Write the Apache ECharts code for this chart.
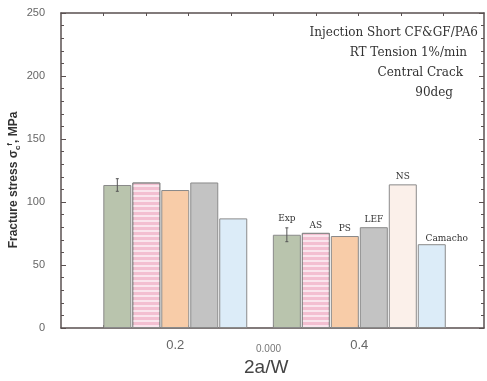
<!DOCTYPE html>
<html>
<head>
<meta charset="utf-8">
<script src="https://cdn.jsdelivr.net/npm/echarts@6/dist/echarts.min.js"></script>
<style>
  html, body { margin: 0; padding: 0; background: #fff; }
  #chart { width: 487px; height: 381px; }
</style>
</head>
<body>
<div id="chart"></div>
<script>
// crack length ratio groups
var groupLabels = [0.2, 0.4];
var models = ['Exp', 'AS', 'PS', 'LEF', 'NS', 'Camacho'];
// fracture stress, MPa (one value per group)
var expVals = [113.5, 74];
var expErr = [5, 5.5];
var asVals = [115.5, 75.5];
var psVals = [109.5, 73];
var lefVals = [115.5, 80];
var nsVals = [null, 114];
var camachoVals = [87, 66.5];
var xTicks = [0.1215, 0.1682, 0.2138, 0.2606, 0.3062, 0.3530, 0.3986, 0.4454, 0.4910];

var allVals = [expVals, asVals, psVals, lefVals, nsVals, camachoVals];
var colors = ['#b9c4ad', '#f3bfd1', '#f8cca8', '#c3c3c3', '#fbf0ea', '#dcecf8'];
var barStep = 0.0315;

var chartDom = document.getElementById('chart');
var myChart = echarts.init(chartDom);

var barData = [];
var errData = [];
groupLabels.forEach(function (gx, g) {
  var present = [];
  models.forEach(function (m, k) {
    if (allVals[k][g] != null) present.push(k);
  });
  var n = present.length;
  present.forEach(function (k, i) {
    var x = gx + (i - (n - 1) / 2) * barStep;
    var item = {
      value: [x, allVals[k][g]],
      itemStyle: { color: colors[k] }
    };
    if (k === 1) {
      item.itemStyle.decal = {
        symbol: 'rect', symbolSize: 1,
        dashArrayX: [1, 0], dashArrayY: [2, 3],
        color: 'rgba(255,255,255,0.6)'
      };
    }
    if (g === 1) {
      item.label = {
        show: true,
        formatter: models[k],
        distance: k === 0 ? 12 : 3,
        offset: k === 5 ? [15, 2] : [0, 0]
      };
    }
    barData.push(item);
    if (k === 0) errData.push([x, expVals[g] - expErr[g], expVals[g] + expErr[g]]);
  });
});

var axisColor = '#5a5050';

option = {
  animation: false,
  grid: { left: 61, right: 3, top: 13, bottom: 53 },
  xAxis: [{
    type: 'value',
    min: 0.0758,
    max: 0.5355,
    axisLine: { show: true, onZero: false, lineStyle: { color: axisColor, width: 1.5 } },
    axisTick: { show: true, inside: true, length: 3, customValues: xTicks, lineStyle: { color: axisColor } },
    axisLabel: {
      customValues: groupLabels,
      formatter: function (v) { return v.toFixed(1); },
      color: '#666', fontSize: 13, fontFamily: 'Liberation Sans', margin: 11
    },
    splitLine: { show: false }
  }, {
    type: 'value',
    position: 'top',
    min: 0.0758,
    max: 0.5355,
    axisLine: { show: true, onZero: false, lineStyle: { color: axisColor, width: 1.5 } },
    axisTick: { show: true, inside: true, length: 3, customValues: xTicks, lineStyle: { color: axisColor } },
    axisLabel: { show: false },
    splitLine: { show: false }
  }],
  yAxis: [{
    type: 'value',
    min: 0,
    max: 250,
    interval: 50,
    axisLine: { show: true, onZero: false, lineStyle: { color: axisColor, width: 1.5 } },
    axisTick: { show: true, inside: true, length: 5, lineStyle: { color: axisColor } },
    minorTick: { show: true, splitNumber: 5, length: 3, lineStyle: { color: axisColor } },
    axisLabel: { color: '#666', fontSize: 11, fontFamily: 'Liberation Sans', margin: 16 },
    splitLine: { show: false }
  }, {
    type: 'value',
    position: 'right',
    min: 0,
    max: 250,
    interval: 50,
    axisLine: { show: true, onZero: false, lineStyle: { color: axisColor, width: 1.5 } },
    axisTick: { show: true, inside: true, length: 5, lineStyle: { color: axisColor } },
    minorTick: { show: true, splitNumber: 5, length: 3, lineStyle: { color: axisColor } },
    axisLabel: { show: false },
    splitLine: { show: false }
  }],
  series: [{
    type: 'bar',
    xAxisIndex: 0,
    yAxisIndex: 0,
    barWidth: 28,
    data: barData,
    itemStyle: { borderColor: '#8a8a8a', borderWidth: 1 },
    label: {
      position: 'top',
      color: '#333',
      fontSize: 9,
      fontFamily: 'DejaVu Serif'
    }
  }, {
    type: 'custom',
    xAxisIndex: 0,
    yAxisIndex: 0,
    data: errData,
    z: 5,
    renderItem: function (params, api) {
      var lo = api.coord([api.value(0), api.value(1)]);
      var hi = api.coord([api.value(0), api.value(2)]);
      var st = { stroke: '#555', lineWidth: 1 };
      return {
        type: 'group',
        children: [
          { type: 'line', shape: { x1: lo[0], y1: lo[1], x2: hi[0], y2: hi[1] }, style: st },
          { type: 'line', shape: { x1: lo[0] - 1.5, y1: lo[1], x2: lo[0] + 1.5, y2: lo[1] }, style: st },
          { type: 'line', shape: { x1: hi[0] - 1.5, y1: hi[1], x2: hi[0] + 1.5, y2: hi[1] }, style: st }
        ]
      };
    }
  }],
  graphic: [
    { type: 'text', right: 9, top: 27, style: { text: 'Injection Short CF&GF/PA6', fill: '#333', font: '12px "DejaVu Serif"' } },
    { type: 'text', right: 20, top: 47, style: { text: 'RT Tension 1%/min', fill: '#333', font: '12px "DejaVu Serif"' } },
    { type: 'text', right: 24, top: 67, style: { text: 'Central Crack', fill: '#333', font: '12px "DejaVu Serif"' } },
    { type: 'text', right: 34, top: 87, style: { text: '90deg', fill: '#333', font: '12px "DejaVu Serif"' } },
    { type: 'text', left: 256, top: 344, style: { text: '0.000', fill: '#777', font: '10px "Liberation Sans"' } },
    { type: 'text', left: 244, top: 358, style: { text: '2a/W', fill: '#444', font: '19px "Liberation Sans"' } },
    {
      type: 'text', x: 14, y: 180, rotation: Math.PI / 2,
      style: {
        text: 'Fracture stress σ{s|c}{t|f}, MPa',
        fill: '#333',
        font: 'bold 12px "Liberation Sans"',
        align: 'center',
        verticalAlign: 'middle',
        rich: {
          s: { fontSize: 8, fontWeight: 'bold', fontFamily: 'Liberation Sans', fill: '#333', padding: [8, 0, 0, 0] },
          t: { fontSize: 8, fontWeight: 'bold', fontFamily: 'Liberation Sans', fill: '#333', padding: [0, 0, 8, 0] }
        }
      }
    }
  ]
};

option && myChart.setOption(option);
window.addEventListener('resize', function () { myChart.resize(); });
</script>
</body>
</html>
